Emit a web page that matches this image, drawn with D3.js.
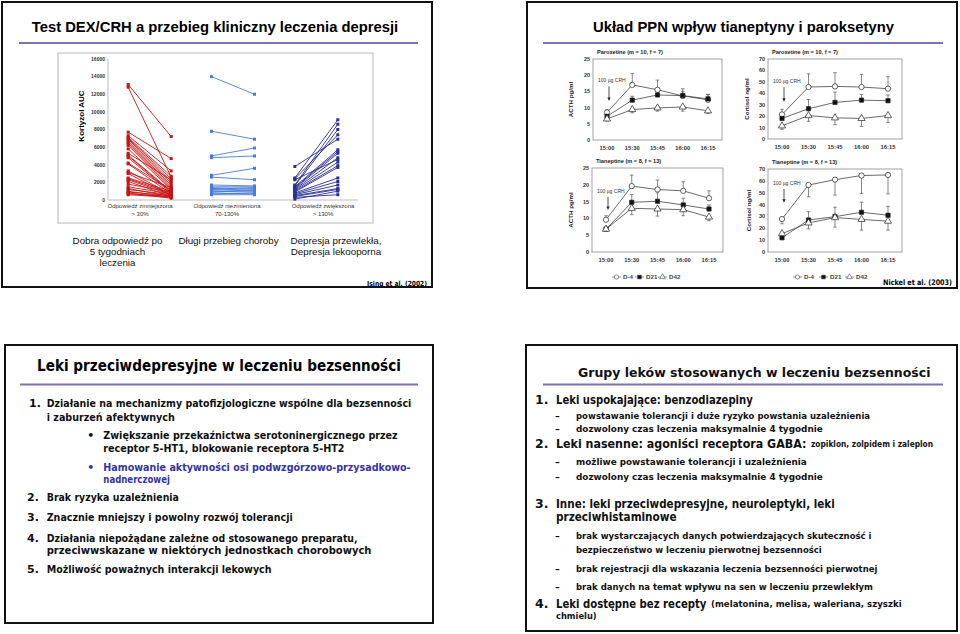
<!DOCTYPE html>
<html lang="pl">
<head>
<meta charset="utf-8">
<script src="https://cdn.jsdelivr.net/npm/d3@7"></script>
<style>
  body { margin: 0; background: #fff; }
  svg { display: block; }
</style>
</head>
<body>
<svg id="chart"></svg>
<script>
// ---------- slide 1: DEX/CRH test ----------
const aucTicks = [0, 2000, 4000, 6000, 8000, 10000, 12000, 14000, 16000];
const responseGroups = ["Odpowiedź zmniejszona", "Odpowiedź niezmieniona", "Odpowiedź zwiększona"];
const responseRanges = ["> 30%", "70-130%", "> 130%"];
const decreasedBefore = [13100, 12800, 7700, 7300, 7100, 7000, 6900, 6700, 6500, 6400, 6200, 5800, 5300, 5100, 5000, 4800, 4200, 4100, 3300, 3100, 3000, 2500, 2400, 2300, 2100, 1800, 1500, 1300, 1200, 1000, 900, 800, 700, 600];
const decreasedAfter  = [7200, 2600, 4700, 3300, 2700, 2400, 2100, 1900, 1700, 1500, 1300, 1200, 2300, 1000, 900, 800, 1100, 700, 600, 1400, 500, 1000, 800, 600, 400, 900, 700, 400, 600, 300, 500, 200, 400, 300];
const unchangedBefore = [14000, 7800, 5000, 4800, 2800, 2600, 1700, 1500, 1400, 1300, 1200, 1100, 1000, 900, 800, 700, 600];
const unchangedAfter  = [12000, 6900, 5900, 5000, 3600, 2300, 1600, 1500, 1200, 1400, 1000, 1300, 900, 1100, 700, 800, 600];
const increasedBefore = [3800, 2500, 2400, 2300, 1700, 1600, 1500, 1400, 1300, 1200, 1100, 1000, 900, 800, 700, 600, 500, 400, 300, 100];
const increasedAfter  = [6900, 9100, 7400, 4600, 8600, 8000, 5700, 5500, 5300, 4800, 4300, 3900, 3700, 2500, 2100, 1700, 1300, 1200, 600, 1000];
const groupNotes = [["Dobra odpowiedź po", "5 tygodniach", "leczenia"], ["Długi przebieg choroby"], ["Depresja przewlekła,", "Depresja lekooporna"]];

// ---------- slide 2: HPA axis, tianeptine vs paroxetine ----------
const timePoints = ["15:00", "15:30", "15:45", "16:00", "16:15"];
const visits = ["D-4", "D21", "D42"];
const acthTicks = [0, 5, 10, 15, 20, 25];
const cortisolTicks = [0, 10, 20, 30, 40, 50, 60, 70];
const acthParoxetineMean = [[8.5, 17, 15.5, 13.6, 12.4], [7.3, 12.3, 13.9, 13.7, 12.7], [6.5, 9.4, 9.9, 10.2, 9.0]];
const acthParoxetineErr  = [[0.8, 3.5, 3.0, 2.2, 1.6], [0.7, 1.2, 1.6, 1.2, 1.4], [0.6, 1.0, 1.0, 1.3, 0.8]];
const cortParoxetineMean = [[21.5, 45.5, 46, 45.5, 44], [18, 26.5, 32, 34, 33.5], [11.5, 20.5, 18.5, 18, 20.5]];
const cortParoxetineErr  = [[4.5, 11.5, 12, 11, 10.5], [3, 8, 9, 5, 5], [3, 5, 6, 7, 6]];
const acthTianeptineMean = [[9.6, 19.6, 18.6, 18.2, 16], [6.8, 14.8, 15.1, 14, 12.8], [6.8, 13, 12.8, 12.6, 10.4]];
const acthTianeptineErr  = [[1.2, 3.3, 2.8, 2.7, 2.2], [0.3, 2.3, 2.5, 2, 1.2], [0.3, 1.9, 2.1, 1.8, 1.1]];
const cortTianeptineMean = [[27.8, 56.5, 61, 64.5, 65], [12, 27, 29.8, 33.5, 31], [15.5, 24.5, 29, 27.5, 26]];
const cortTianeptineErr  = [[4, 10, 13, 15, 16], [2, 7, 8, 8.5, 7.5], [2, 5, 8, 9, 7.5]];

// ---------- slide 3 / 4 texts ----------
const antidepTitle = "Leki przeciwdepresyjne w leczeniu bezsenności";
const antidepLines = [
  ["1.", "Działanie na mechanizmy patofizjologiczne wspólne dla bezsenności"],
  ["", "i zaburzeń afektywnych"],
  ["•", "Zwiększanie  przekaźnictwa serotoninergicznego przez"],
  ["", "receptor 5-HT1, blokowanie receptora 5-HT2"],
  ["•", "Hamowanie aktywności osi podwzgórzowo-przysadkowo-"],
  ["", "nadnerczowej"],
  ["2.", "Brak ryzyka uzależnienia"],
  ["3.", "Znacznie mniejszy i powolny rozwój tolerancji"],
  ["4.", "Działania niepożądane zależne od stosowanego preparatu,"],
  ["", "przeciwwskazane w niektórych jednostkach chorobowych"],
  ["5.", "Możliwość poważnych interakcji lekowych"]
];
const drugGroupsTitle = "Grupy leków stosowanych w leczeniu bezsenności";
const drugGroupsLines = [
  ["1.", ["Leki  uspokajające: benzodiazepiny", ""]],
  ["–", ["", "powstawanie tolerancji i duże ryzyko powstania uzależnienia"]],
  ["–", ["", "dozwolony czas leczenia maksymalnie 4 tygodnie"]],
  ["2.", ["Leki nasenne: agoniści receptora GABA:", "zopiklon, zolpidem i zaleplon"]],
  ["–", ["", "możliwe powstawanie tolerancji i uzależnienia"]],
  ["–", ["", "dozwolony czas leczenia maksymalnie 4 tygodnie"]],
  ["3.", ["Inne: leki przeciwdepresyjne, neuroleptyki, leki", ""]],
  ["", ["przeciwhistaminowe", ""]],
  ["–", ["", "brak wystarczających danych potwierdzających skuteczność i"]],
  ["", ["", "bezpieczeństwo w leczeniu pierwotnej bezsenności"]],
  ["–", ["", "brak rejestracji dla wskazania leczenia bezsenności pierwotnej"]],
  ["–", ["", "brak danych na temat wpływu na sen w leczeniu przewlekłym"]],
  ["4.", ["Leki dostępne bez recepty", "(melatonina, melisa, waleriana, szyszki"]],
  ["", ["", "chmielu)"]]
];

// ---------- drawing ----------
const svg = d3.select("#chart").attr("width", 960).attr("height", 634);
const ARIAL = "'Liberation Sans', Arial, sans-serif";
const TAHOMA = "'DejaVu Sans', Verdana, sans-serif";
const PURPLE = "#7a72b4";

function frame(x, y, w, h) {
  svg.append("rect").attr("x", x).attr("y", y).attr("width", w).attr("height", h)
    .attr("fill", "none").attr("stroke", "#111").attr("stroke-width", 2);
}
function rule(x1, x2, y) {
  svg.append("line").attr("x1", x1).attr("x2", x2).attr("y1", y).attr("y2", y)
    .attr("stroke", PURPLE).attr("stroke-width", 2);
}
// narrow a text horizontally to a given width (the slides use a narrower face than DejaVu)
function squeeze(sel, width) {
  sel.each(function () {
    const el = d3.select(this);
    const x = +el.attr("x"), y = +el.attr("y");
    const k = width / this.getComputedTextLength();
    el.attr("x", null).attr("y", null).attr("transform", `translate(${x},${y}) scale(${k},1)`);
  });
}

// ===== slide 1 =====
const s1 = svg.append("g");
s1.append("text").attr("x", 215).attr("y", 31.5).attr("text-anchor", "middle")
  .attr("font-family", ARIAL).attr("font-weight", "bold").attr("font-size", 14.8)
  .text("Test DEX/CRH a przebieg kliniczny leczenia depresji");
rule(19, 418, 43);
s1.append("rect").attr("x", 58).attr("y", 53).attr("width", 315).attr("height", 170)
  .attr("fill", "none").attr("stroke", "#b8b8b8").attr("stroke-width", 1);

const yAuc = d3.scaleLinear().domain([0, 16000]).range([200, 59]);
const xGroup = d3.scaleBand().domain(responseGroups).range([108, 358]);
const half = 21.5;

s1.append("line").attr("x1", 108).attr("x2", 108).attr("y1", 59).attr("y2", 200).attr("stroke", "#bdbdbd");
s1.append("line").attr("x1", 108).attr("x2", 358).attr("y1", 200).attr("y2", 200).attr("stroke", "#bdbdbd");
s1.selectAll(".ytick").data(aucTicks).join("text")
  .attr("x", 105).attr("y", d => yAuc(d) + 1.8).attr("text-anchor", "end")
  .attr("font-family", ARIAL).attr("font-weight", "bold").attr("font-size", 5).attr("fill", "#333")
  .text(d => d);
s1.append("text").attr("transform", "translate(84,116) rotate(-90)").attr("text-anchor", "middle")
  .attr("font-family", ARIAL).attr("font-weight", "bold").attr("font-size", 8).text("Kortyzol  AUC");

const spaghetti = [
  { key: responseGroups[0], before: decreasedBefore, after: decreasedAfter, color: "#c81414" },
  { key: responseGroups[1], before: unchangedBefore, after: unchangedAfter, color: "#4a7ad6" },
  { key: responseGroups[2], before: increasedBefore, after: increasedAfter, color: "#2c2e94" }
];
spaghetti.forEach(grp => {
  const cx = xGroup(grp.key) + xGroup.bandwidth() / 2;
  const pairs = d3.zip(grp.before, grp.after);
  const gg = s1.append("g");
  gg.selectAll("line").data(pairs).join("line")
    .attr("x1", cx - half).attr("x2", cx + half)
    .attr("y1", d => yAuc(d[0])).attr("y2", d => yAuc(d[1]))
    .attr("stroke", grp.color).attr("stroke-width", 0.9);
  const ends = pairs.flatMap(d => [[cx - half, d[0]], [cx + half, d[1]]]);
  gg.selectAll("rect").data(ends).join("rect")
    .attr("x", d => d[0] - 1.5).attr("y", d => yAuc(d[1]) - 1.5)
    .attr("width", 3).attr("height", 3).attr("fill", grp.color);
});
const catLabelX = [140, 227, 323];
responseGroups.forEach((name, i) => {
  const t = s1.append("text").attr("text-anchor", "middle")
    .attr("font-family", ARIAL).attr("font-size", 6).attr("fill", "#333");
  t.append("tspan").attr("x", catLabelX[i]).attr("y", 208).text(name);
  t.append("tspan").attr("x", catLabelX[i]).attr("y", 216).text(responseRanges[i]);
});
const noteX = [117.5, 228.5, 336];
groupNotes.forEach((lines, i) => {
  lines.forEach((line, j) => {
    s1.append("text").attr("x", noteX[i]).attr("y", 243.5 + j * 11).attr("text-anchor", "middle")
      .attr("font-family", ARIAL).attr("font-size", 9.8).attr("fill", "#111").text(line);
  });
});
s1.append("text").attr("x", 427).attr("y", 285.5).attr("text-anchor", "end")
  .attr("font-family", TAHOMA).attr("font-weight", "bold").attr("font-size", 7)
  .text("Ising et al. (2002)").call(squeeze, 60);
frame(2, 2, 430, 285);

// ===== slide 2 =====
const s2 = svg.append("g");
s2.append("text").attr("x", 743.5).attr("y", 31.5).attr("text-anchor", "middle")
  .attr("font-family", ARIAL).attr("font-weight", "bold").attr("font-size", 14.8)
  .text("Układ PPN wpływ tianeptyny i paroksetyny");
rule(543, 943, 43);

const symbols = [d3.symbolCircle, d3.symbolSquare, d3.symbolTriangle];
const symbolFill = ["#fff", "#111", "#fff"];

const panels = [
  { x0: 593, x1: 722, y0: 59, y1: 140, yMax: 25, ticks: acthTicks, title: "Paroxetine (m = 10, f = 7)",
    ylab: "ACTH pg/ml", ylabX: 573, means: acthParoxetineMean, errs: acthParoxetineErr, dirs: [1, 1, -1], crh: [17.8, 12] },
  { x0: 768, x1: 902, y0: 59, y1: 139, yMax: 70, ticks: cortisolTicks, title: "Paroxetine (m = 10, f = 7)",
    ylab: "Cortisol ng/ml", ylabX: 749, means: cortParoxetineMean, errs: cortParoxetineErr, dirs: [1, 1, -1], crh: [49, 32.5] },
  { x0: 592, x1: 723, y0: 168, y1: 252, yMax: 25, ticks: acthTicks, title: "Tianeptine (m = 8, f = 13)",
    ylab: "ACTH pg/ml", ylabX: 573, means: acthTianeptineMean, errs: acthTianeptineErr, dirs: [1, 1, -1], crh: [17.6, 12.5],
    legend: [612, 23] },
  { x0: 768, x1: 902, y0: 169, y1: 252, yMax: 70, ticks: cortisolTicks, title: "Tianeptine (m = 8, f = 13)",
    ylab: "Cortisol ng/ml", ylabX: 751, means: cortTianeptineMean, errs: cortTianeptineErr, dirs: [-1, 1, -1], crh: [56.5, 41.5],
    legend: [793, 26] }
];

panels.forEach(p => {
  const g = s2.append("g").attr("font-family", ARIAL).attr("font-weight", "bold").attr("fill", "#333");
  const x = d3.scalePoint().domain(timePoints).range([p.x0 + 14, p.x1 - 14]);
  const y = d3.scaleLinear().domain([0, p.yMax]).range([p.y1, p.y0]);

  g.append("rect").attr("x", p.x0).attr("y", p.y0).attr("width", p.x1 - p.x0).attr("height", p.y1 - p.y0)
    .attr("fill", "none").attr("stroke", "#8a8a8a").attr("stroke-width", 0.8);
  g.selectAll(".yt").data(p.ticks).join("text")
    .attr("x", p.x0 - 3).attr("y", d => y(d) + 2).attr("text-anchor", "end")
    .attr("font-size", 5.5).text(d => d);
  g.selectAll(".xt").data(timePoints).join("text")
    .attr("x", d => x(d)).attr("y", p.y1 + 10).attr("text-anchor", "middle")
    .attr("font-size", 5.8).text(d => d);
  g.append("text").attr("x", p.x0 + 4).attr("y", p.y0 - 5).attr("font-size", 5.6).attr("fill", "#222").text(p.title);
  g.append("text").attr("transform", `translate(${p.ylabX},${(p.y0 + p.y1) / 2}) rotate(-90)`)
    .attr("text-anchor", "middle").attr("font-size", 6.2).attr("fill", "#222").text(p.ylab);

  // CRH injection marker
  const ax = x(timePoints[0]) + 2;
  g.append("text").attr("x", ax - 11).attr("y", y(p.crh[0])).attr("font-size", 5).attr("font-weight", "normal")
    .text("100 µg CRH");
  g.append("line").attr("x1", ax).attr("x2", ax).attr("y1", y(p.crh[0]) + 4).attr("y2", y(p.crh[1]) - 3)
    .attr("stroke", "#222").attr("stroke-width", 0.8);
  g.append("path").attr("d", `M${ax - 1.6},${y(p.crh[1]) - 3.5}L${ax + 1.6},${y(p.crh[1]) - 3.5}L${ax},${y(p.crh[1])}Z`)
    .attr("fill", "#222");

  const line = d3.line().x((d, i) => x(timePoints[i])).y(d => y(d));
  p.means.forEach((vals, si) => {
    g.append("path").attr("d", line(vals)).attr("fill", "none").attr("stroke", "#444").attr("stroke-width", 0.8);
  });
  p.means.forEach((vals, si) => {
    vals.forEach((v, i) => {
      const xx = x(timePoints[i]);
      const yEnd = y(v + p.dirs[si] * p.errs[si][i]);
      g.append("line").attr("x1", xx).attr("x2", xx).attr("y1", y(v)).attr("y2", yEnd)
        .attr("stroke", "#555").attr("stroke-width", 0.7);
      g.append("line").attr("x1", xx - 1.8).attr("x2", xx + 1.8).attr("y1", yEnd).attr("y2", yEnd)
        .attr("stroke", "#555").attr("stroke-width", 0.7);
    });
  });
  p.means.forEach((vals, si) => {
    g.selectAll(null).data(vals).join("path")
      .attr("transform", (d, i) => `translate(${x(timePoints[i])},${y(d)})`)
      .attr("d", d3.symbol().type(symbols[si]).size(si === 1 ? 18 : 22))
      .attr("fill", symbolFill[si]).attr("stroke", "#222").attr("stroke-width", 0.7);
  });

  if (p.legend) {
    const [lx, step] = p.legend;
    visits.forEach((v, i) => {
      const ix = lx + i * step;
      g.append("line").attr("x1", ix).attr("x2", ix + 9).attr("y1", 277).attr("y2", 277)
        .attr("stroke", "#666").attr("stroke-width", 0.7);
      g.append("path").attr("transform", `translate(${ix + 4.5},277)`)
        .attr("d", d3.symbol().type(symbols[i]).size(14))
        .attr("fill", symbolFill[i]).attr("stroke", "#444").attr("stroke-width", 0.6);
      g.append("text").attr("x", ix + 11).attr("y", 279.2).attr("font-size", 6.2).attr("fill", "#444").text(v);
    });
  }
});
s2.append("text").attr("x", 952).attr("y", 284.5).attr("text-anchor", "end")
  .attr("font-family", TAHOMA).attr("font-weight", "bold").attr("font-size", 7.6)
  .text("Nickel et al. (2003)").call(squeeze, 69);
frame(527, 2, 430, 286);

// ===== slide 3 =====
const s3 = svg.append("g").attr("font-family", TAHOMA).attr("font-weight", "bold");
s3.append("text").attr("x", 37).attr("y", 371).attr("font-size", 15.5).text(antidepTitle).call(squeeze, 364);
rule(20, 418, 384.5);
// [marker x, text x, line centre y, line end x, blue]
const antidepLayout = [
  [29, 46.7, 403.3, 411.7, 0], [0, 46.7, 416.7, 175, 0],
  [87.3, 103.3, 435.5, 398, 0], [0, 103.3, 448.3, 345, 0],
  [87.3, 103.3, 466.7, 411, 1], [0, 103.3, 479.5, 170, 1],
  [27, 46.7, 497.5, 179, 0], [27, 46.7, 517.5, 293, 0],
  [27, 46.7, 538.3, 358, 0], [0, 46.7, 550, 371.7, 0],
  [27, 46.7, 569, 272, 0]
];
antidepLines.forEach(([mark, txt], i) => {
  const [mx, tx, yc, ex, blue] = antidepLayout[i];
  const col = blue ? "#3434a8" : "#111";
  if (mark) s3.append("text").attr("x", mx).attr("y", yc + 3.8).attr("font-size", 11).attr("fill", col).text(mark);
  s3.append("text").attr("x", tx).attr("y", yc + 3.8).attr("font-size", 10.5).attr("fill", col)
    .text(txt).call(squeeze, ex - tx);
});
frame(5, 345, 428, 278);

// ===== slide 4 =====
const s4 = svg.append("g").attr("font-family", TAHOMA).attr("font-weight", "bold").attr("fill", "#111");
s4.append("text").attr("x", 578).attr("y", 376.5).attr("font-size", 13).text(drugGroupsTitle).call(squeeze, 353);
rule(543, 943, 384.5);
// [marker x, text x, line centre y, end of large part x, start of small part x, line end x]
const drugLayout = [
  [535, 556, 400, 753, 0, 0], [555, 576, 415.7, 0, 576, 870], [555, 576, 428.3, 0, 576, 823],
  [535, 556, 443.3, 806.7, 811, 933], [555, 576, 461.7, 0, 576, 806.7], [555, 576, 476.7, 0, 576, 823],
  [535, 556, 503.3, 835, 0, 0], [0, 556, 516.7, 676.7, 0, 0],
  [555, 576, 536, 0, 576, 871.7], [0, 576, 550, 0, 576, 821.7], [555, 576, 568.3, 0, 576, 876.7], [555, 576, 586.7, 0, 576, 873],
  [535, 556, 604, 706.7, 711, 901.7], [0, 556, 616, 0, 556, 596.7]
];
drugGroupsLines.forEach(([mark, parts], i) => {
  const [mx, tx, yc, bigEnd, smallX, smallEnd] = drugLayout[i];
  if (mark) {
    const bigMark = mark !== "–";
    s4.append("text").attr("x", mx).attr("y", yc + (bigMark ? 4.3 : 3.3)).attr("font-size", bigMark ? 12.5 : 9.5).text(mark);
  }
  if (parts[0]) s4.append("text").attr("x", tx).attr("y", yc + 4.3).attr("font-size", 12)
    .text(parts[0]).call(squeeze, bigEnd - tx);
  if (parts[1]) s4.append("text").attr("x", smallX).attr("y", yc + 3.3).attr("font-size", 9.2)
    .text(parts[1]).call(squeeze, smallEnd - smallX);
});
frame(526, 345, 431, 286);
</script>
</body>
</html>
